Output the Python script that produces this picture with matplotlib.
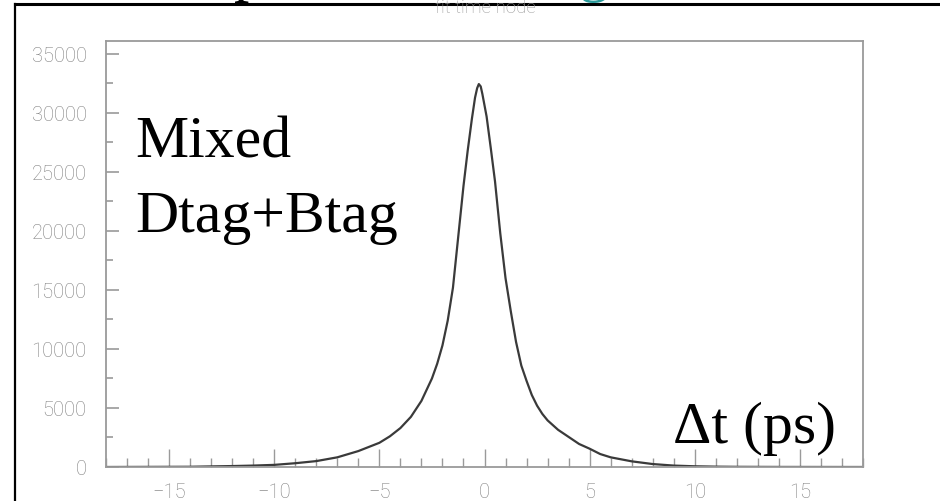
import matplotlib
matplotlib.use("Agg")
import matplotlib.pyplot as plt
from matplotlib.lines import Line2D
from matplotlib.ticker import MultipleLocator

# delta t (ps) and fitted counts
dt = [-18, -14, -12, -11, -10, -9, -8, -7, -6, -5, -4.5, -4, -3.5, -3, -2.5,
      -2.25, -2, -1.75, -1.5, -1.25, -1, -0.8, -0.6, -0.45, -0.35, -0.27,
      -0.18, -0.1, 0.1, 0.3, 0.5, 0.75, 1.0, 1.25, 1.5, 1.75, 2, 2.25, 2.5,
      2.75, 3, 3.5, 4, 4.5, 5, 5.5, 6, 7, 8, 9, 10, 11, 12, 14, 18]
counts = [0, 20, 80, 120, 180, 320, 500, 820, 1350, 2050, 2600, 3300, 4250,
          5600, 7500, 8750, 10300, 12400, 15200, 19500, 23800, 26800, 29500,
          31300, 32100, 32450, 32250, 31600, 29700, 27000, 24200, 19800,
          16000, 13200, 10600, 8600, 7300, 6100, 5200, 4500, 3950, 3150,
          2550, 1950, 1550, 1100, 820, 480, 250, 120, 60, 30, 15, 5, 0]

label_lines = ["Mixed", "Dtag+Btag"]
axis_label = "\u0394t (ps)"
fit_title = "fit time node"

W, H = 940, 502
fig = plt.figure(figsize=(W / 100, H / 100), dpi=100)

def fx(px):
    return px / W

def fy(py):
    return 1 - py / H

grey = "#9a9a9a"
ax = fig.add_axes([fx(106), fy(468), fx(863) - fx(106), fy(42) - fy(468)])
ax.plot(dt, counts, color="#3a3a3a", lw=1.6)
ax.set_xlim(-18, 18)
ax.set_ylim(0, 36100)

ax.xaxis.set_major_locator(MultipleLocator(5))
ax.xaxis.set_minor_locator(MultipleLocator(1))
ax.yaxis.set_major_locator(MultipleLocator(5000))
ax.yaxis.set_minor_locator(MultipleLocator(2500))
ax.tick_params(axis="x", which="major", direction="in", length=13, width=1,
               color=grey, pad=11)
ax.tick_params(axis="x", which="minor", direction="in", length=6.5, width=1,
               color=grey)
ax.tick_params(axis="y", which="major", direction="in", length=9.5, width=1.2,
               color=grey, pad=14)
ax.tick_params(axis="y", which="minor", direction="in", length=5, width=1.2,
               color=grey)
for lab in ax.get_xticklabels() + ax.get_yticklabels():
    lab.set_fontfamily("Roboto")
    lab.set_fontweight("light")
    lab.set_fontsize(14.5)
    lab.set_color("#808080")
for s in ax.spines.values():
    s.set_color(grey)
    s.set_linewidth(1.3)

serif = "Liberation Serif"
fig.text(fx(135), fy(158), label_lines[0], family=serif, fontsize=43,
         va="baseline", ha="left")
fig.text(fx(135), fy(232), label_lines[1], family=serif, fontsize=43,
         va="baseline", ha="left")
fig.text(fx(673), fy(443), axis_label, family=serif, fontsize=43,
         va="baseline", ha="left")

# cut-off bits of the slide title above the frame
fig.text(fx(485), fy(13), fit_title, family="Roboto", fontweight="light",
         fontsize=13.5, color="#9a9a9a", ha="center", va="baseline")
fig.text(fx(234), fy(-10), "p", family=serif, fontsize=44, color="black",
         va="baseline", ha="left")
fig.text(fx(578), fy(-10), "g", family=serif, fontsize=44, color="#2a9a9a",
         va="baseline", ha="left")

# black slide frame
fig.add_artist(Line2D([fx(15), 1], [fy(5), fy(5)], color="black", lw=2.2))
fig.add_artist(Line2D([fx(15), fx(15)], [fy(5), 0], color="black", lw=1.6))

fig.savefig("out.png", dpi=100)
